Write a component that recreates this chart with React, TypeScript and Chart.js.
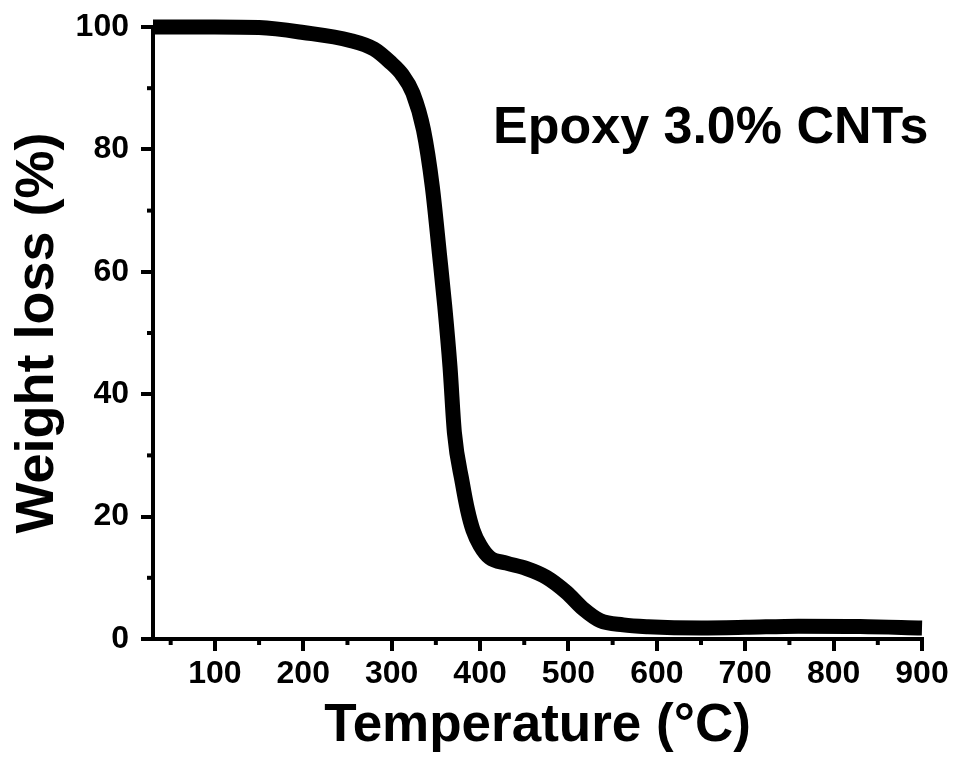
import React, { useEffect, useRef } from 'react';
import { Chart, registerables } from 'chart.js';

Chart.register(...registerables);

// Data (Temperature °C vs Weight %)
const temperatures = [30, 100, 150, 200, 253, 280, 298, 312, 324, 336, 346, 354, 360, 366, 371, 380, 386, 392, 400, 411, 430, 452, 475, 498, 517, 536, 562, 590, 650, 700, 760, 830, 900];
const weights = [100, 100, 99.9, 99.1, 97.8, 96.4, 94.3, 92.2, 89.2, 83.2, 73.9, 63, 54.5, 44.5, 33.7, 25.5, 21, 17.8, 15.3, 13.3, 12.4, 11.55, 10.1, 7.6, 4.9, 3.0, 2.3, 2.0, 1.8, 1.9, 2.1, 2.05, 1.8];

const xMajorTicks = [100, 200, 300, 400, 500, 600, 700, 800, 900];
const xMinorTicks = [50, 150, 250, 350, 450, 550, 650, 750, 850];
const yMajorTicks = [0, 20, 40, 60, 80, 100];
const yMinorTicks = [10, 30, 50, 70, 90];

const xTitle = 'Temperature (°C)';
const yTitle = 'Weight loss (%)';
const annotationText = 'Epoxy 3.0% CNTs';

const FONT = '"Liberation Sans", Arial, Helvetica, sans-serif';

const extrasPlugin = {
  id: 'extras',
  afterDraw(chart: any) {
    const ctx = chart.ctx;
    const xs = chart.scales.x;
    const ys = chart.scales.y;
    ctx.save();
    ctx.strokeStyle = '#000';
    ctx.lineWidth = 4;
    ctx.lineCap = 'butt';
    const minorLen = 6;
    xMinorTicks.forEach((v) => {
      const px = xs.getPixelForValue(v);
      ctx.beginPath();
      ctx.moveTo(px, ys.bottom);
      ctx.lineTo(px, ys.bottom + minorLen);
      ctx.stroke();
    });
    yMinorTicks.forEach((v) => {
      const py = ys.getPixelForValue(v);
      ctx.beginPath();
      ctx.moveTo(xs.left, py);
      ctx.lineTo(xs.left - minorLen, py);
      ctx.stroke();
    });
    // annotation
    ctx.fillStyle = '#000';
    ctx.font = `bold 52px ${FONT}`;
    ctx.textAlign = 'left';
    ctx.textBaseline = 'alphabetic';
    ctx.fillText(annotationText, chart.chartArea.left + 340, chart.chartArea.top + 116);
    ctx.restore();
  },
};

export default function App() {
  const canvasRef = useRef<HTMLCanvasElement | null>(null);

  useEffect(() => {
    if (!canvasRef.current) return;
    const data = temperatures.map((t, i) => ({ x: t, y: weights[i] }));
    const chart = new Chart(canvasRef.current, {
      type: 'line',
      data: {
        datasets: [
          {
            data,
            borderColor: '#000',
            backgroundColor: '#000',
            borderWidth: 15,
            pointRadius: 0,
            cubicInterpolationMode: 'monotone',
            borderCapStyle: 'butt',
            borderJoinStyle: 'round',
            clip: false,
            fill: false,
          } as any,
        ],
      },
      options: {
        animation: false,
        responsive: true,
        maintainAspectRatio: false,
        layout: { padding: { top: 27, right: 38, left: 0, bottom: 0 } },
        plugins: {
          legend: { display: false },
          tooltip: { enabled: false },
        },
        scales: {
          x: {
            type: 'linear',
            min: 30,
            max: 900,
            afterBuildTicks: (scale: any) => {
              scale.ticks = xMajorTicks.map((v) => ({ value: v }));
            },
            afterFit: (scale: any) => {
              scale.height = 769 - 639;
              scale.paddingLeft = 0;
              scale.paddingRight = 0;
            },
            border: { display: true, color: '#000', width: 4 },
            grid: {
              display: true,
              drawOnChartArea: false,
              drawTicks: true,
              tickLength: 12,
              tickWidth: 4,
              tickColor: '#000',
              color: '#000',
              lineWidth: 4,
            },
            ticks: {
              color: '#000',
              font: { family: FONT, weight: 'bold', size: 32 },
              padding: 4,
              maxRotation: 0,
              autoSkip: false,
            },
            title: {
              display: true,
              text: xTitle,
              color: '#000',
              font: { family: FONT, weight: 'bold', size: 53 },
              padding: { top: 0, bottom: 11 },
            },
          },
          y: {
            type: 'linear',
            min: 0,
            max: 100,
            afterBuildTicks: (scale: any) => {
              scale.ticks = yMajorTicks.map((v) => ({ value: v }));
            },
            afterFit: (scale: any) => {
              scale.width = 153;
              scale.paddingTop = 0;
              scale.paddingBottom = 0;
            },
            border: { display: true, color: '#000', width: 4 },
            grid: {
              display: true,
              drawOnChartArea: false,
              drawTicks: true,
              tickLength: 12,
              tickWidth: 4,
              tickColor: '#000',
              color: '#000',
              lineWidth: 4,
            },
            ticks: {
              color: '#000',
              font: { family: FONT, weight: 'bold', size: 32 },
              padding: 12,
              autoSkip: false,
            },
            title: {
              display: true,
              text: yTitle,
              color: '#000',
              font: { family: FONT, weight: 'bold', size: 54 },
              padding: { top: 6, bottom: 0 },
            },
          },
        },
      },
      plugins: [extrasPlugin],
    });
    return () => chart.destroy();
  }, []);

  return (
    <div style={{ position: 'fixed', left: 0, top: 0, width: 960, height: 769, background: '#fff' }}>
      <canvas ref={canvasRef} />
    </div>
  );
}
